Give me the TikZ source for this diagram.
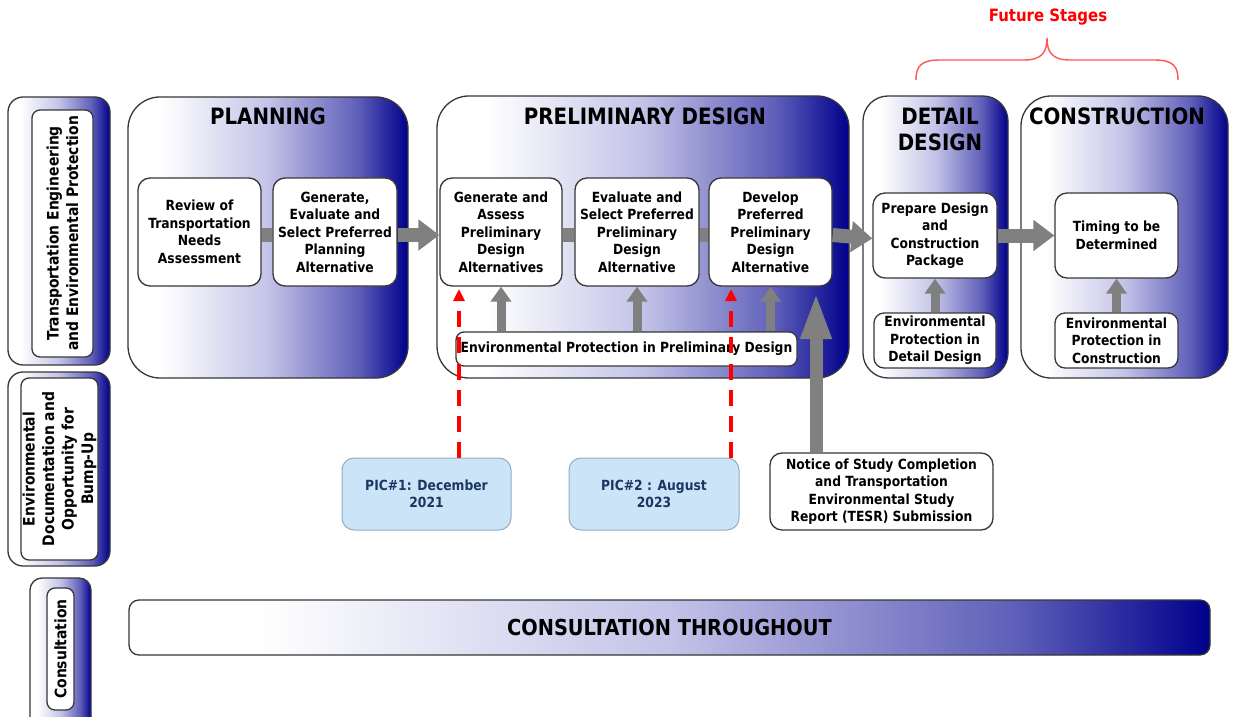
\documentclass[tikz,border=0pt]{standalone}
\usepackage{fontspec}
\setmainfont{DejaVu Sans}[FakeStretch=0.88]
\usetikzlibrary{arrows.meta}
\definecolor{gnavy}{RGB}{0,0,140}
\definecolor{glav}{RGB}{195,195,232}
\definecolor{gmid}{RGB}{95,95,185}
\definecolor{arrgray}{RGB}{128,128,128}
\definecolor{picfill}{RGB}{204,228,248}
\definecolor{picdraw}{RGB}{150,172,196}
\definecolor{pictext}{RGB}{28,54,100}
\definecolor{edgegray}{RGB}{55,55,55}
\definecolor{bracered}{RGB}{255,85,85}
\pgfdeclarehorizontalshading{navyfade}{100bp}{color(0bp)=(white); color(25bp)=(white); color(31bp)=(white); color(50bp)=(glav); color(66bp)=(gmid); color(75bp)=(gnavy); color(100bp)=(gnavy)}
\newcommand{\mybox}{\bfseries\fontsize{14bp}{17.5bp}\selectfont}
\newcommand{\mylab}{\bfseries\fontsize{15.8bp}{19.5bp}\selectfont}
\newcommand{\mytitle}{\bfseries\fontsize{22.5bp}{26bp}\selectfont}
\newcommand{\mybig}{\bfseries\fontsize{22bp}{26bp}\selectfont}
\newcommand{\myfut}{\bfseries\fontsize{17bp}{20bp}\selectfont}
\begin{document}
\begin{tikzpicture}[x=1bp, y=-1bp,
  wh/.style 2 args={minimum width=#1bp, minimum height=#2bp},
  phase/.style={draw=edgegray, line width=1.3bp, shade, shading=navyfade, inner sep=0pt},
  labbox/.style={draw=edgegray, fill=white, line width=1.3bp, rounded corners=8bp, align=center, inner sep=0pt, font=\mylab},
  stepbox/.style={draw=edgegray, fill=white, line width=1.3bp, rounded corners=12bp, align=center, inner sep=0pt, font=\mybox},
  picbox/.style={draw=picdraw, fill=picfill, line width=1bp, rounded corners=12bp, align=center, inner sep=0pt, font=\mybox, text=pictext},
  titlenode/.style={align=center, inner sep=0pt, font=\mytitle},
  bar/.style={draw=arrgray, line width=14bp},
  fat/.style={draw=arrgray, line width=14bp, -{Triangle[length=21bp,width=30bp]}},
  uparr/.style={draw=arrgray, line width=9bp, -{Triangle[length=15bp,width=20bp]}},
  bigarr/.style={draw=arrgray, line width=13bp, -{Triangle[length=47bp,width=28bp]}},
  reddash/.style={draw=red, line width=3.2bp, dash pattern=on 16bp off 10bp, -{Triangle[length=12bp,width=11bp]}},
  bracepath/.style={draw=bracered, line width=1.4bp}
]
\useasboundingbox (0,0) rectangle (1233,717);
\fill[white] (0,0) rectangle (1233,717);

% left column
\node[phase, wh={102}{268}, rounded corners=15bp] (l1o) at (59,231) {};
\node[labbox, rotate=90, wh={247}{61}] (l1) at (62.5,233.5) {Transportation Engineering\\and Environmental Protection};
\node[phase, wh={102}{194}, rounded corners=15bp] (l2o) at (59,469) {};
\node[labbox, rotate=90, wh={182}{77}] (l2) at (59.5,469) {Environmental\\Documentation and\\Opportunity for\\Bump-Up};
\node[phase, wh={61}{152}, rounded corners=12bp] (l3o) at (60.5,654) {};
\node[labbox, rotate=90, wh={122}{27}] (l3) at (60.5,649) {Consultation};

% phases
\node[phase, wh={280}{281}, rounded corners=32bp] (plan) at (268,237.5) {};
\node[titlenode] (plant) at (268,116) {PLANNING};
\node[phase, wh={412}{282}, rounded corners=32bp] (prel) at (643,237) {};
\node[titlenode] (prelt) at (645,116) {PRELIMINARY DESIGN};
\node[phase, wh={145}{282}, rounded corners=25bp] (det) at (935.5,237) {};
\node[titlenode] (dett) at (940,129) {DETAIL\\DESIGN};
\node[phase, wh={207}{282}, rounded corners=30bp] (cons) at (1124.5,237) {};
\node[titlenode] (const) at (1117,116) {CONSTRUCTION};

% step boxes
\node[stepbox, wh={123}{108}] (rev) at (199.5,232) {Review of\\Transportation\\Needs\\Assessment};
\node[stepbox, wh={124}{108}] (gesp) at (335,232) {Generate,\\Evaluate and\\Select Preferred\\Planning\\Alternative};
\node[stepbox, wh={122}{108}] (gaa) at (501,232) {Generate and\\Assess\\Preliminary\\Design\\Alternatives};
\node[stepbox, wh={124}{108}] (esp) at (637,232) {Evaluate and\\Select Preferred\\Preliminary\\Design\\Alternative};
\node[stepbox, wh={123}{108}] (dev) at (770.5,232) {Develop\\Preferred\\Preliminary\\Design\\Alternative};
\node[stepbox, wh={124}{85}] (prep) at (935,235.5) {Prepare Design\\and\\Construction\\Package};
\node[stepbox, wh={123}{85}] (tim) at (1116.5,235.5) {Timing to be\\Determined};

% connectors between steps
\draw[bar] ([yshift=-3bp]rev.east) -- ([yshift=-3bp]gesp.west);
\draw[fat] ([yshift=-3bp]gesp.east) -- ([yshift=-3bp]gaa.west);
\draw[bar] ([yshift=-3bp]gaa.east) -- ([yshift=-3bp]esp.west);
\draw[bar] ([yshift=-3bp]esp.east) -- ([yshift=-3bp]dev.west);
\draw[fat] ([yshift=-3bp]dev.east) -- ([yshift=-3bp]prep.west);
\draw[fat] (prep.east) -- (tim.west);

% environmental protection boxes
\node[stepbox, wh={341}{34}, rounded corners=8bp] (envpd) at (626.5,349) {Environmental Protection in Preliminary Design};
\node[stepbox, wh={122}{55}, rounded corners=10bp] (envdd) at (935,340.5) {Environmental\\Protection in\\Detail Design};
\node[stepbox, wh={123}{55}, rounded corners=10bp] (envc) at (1116.5,340.5) {Environmental\\Protection in\\Construction};

\draw[uparr] (gaa.south |- envpd.north) -- (gaa.south);
\draw[uparr] (esp.south |- envpd.north) -- (esp.south);
\draw[uparr] (dev.south |- envpd.north) -- (dev.south);
\draw[uparr] (envdd.north) -- (envdd.north |- prep.south);
\draw[uparr] (envc.north) -- (envc.north |- tim.south);

% PIC and notice boxes
\node[picbox, wh={169}{72}] (pic1) at (426.5,494) {PIC\#1: December\\2021};
\node[picbox, wh={170}{72}] (pic2) at (654,494) {PIC\#2 : August\\2023};
\node[stepbox, wh={223}{77}] (notice) at (881.5,491.5) {Notice of Study Completion\\and Transportation\\Environmental Study\\Report (TESR) Submission};

\coordinate (bigtip) at (816,292);
\draw[bigarr] (notice.north -| bigtip) -- (bigtip);
\coordinate (r1tip) at (459,289);
\coordinate (r2tip) at (731,289);
\draw[reddash] (pic1.north -| r1tip) -- (r1tip);
\draw[reddash] (pic2.north -| r2tip) -- (r2tip);

% consultation bar
\node[phase, wh={1081}{55}, rounded corners=10bp, font=\mybig] (consbar) at (669.5,627.5) {CONSULTATION THROUGHOUT};

% future stages brace
\draw[bracepath] (916,80) .. controls (916,66) and (921,60) .. (940,60) -- (1024,60) .. controls (1042,60) and (1047,52) .. (1047,38) .. controls (1047,52) and (1052,60) .. (1070,60) -- (1154,60) .. controls (1173,60) and (1178,66) .. (1178,80);
\node[font=\myfut, text=red, inner sep=0pt] (future) at (1048,17) {Future Stages};
\end{tikzpicture}
\end{document}
